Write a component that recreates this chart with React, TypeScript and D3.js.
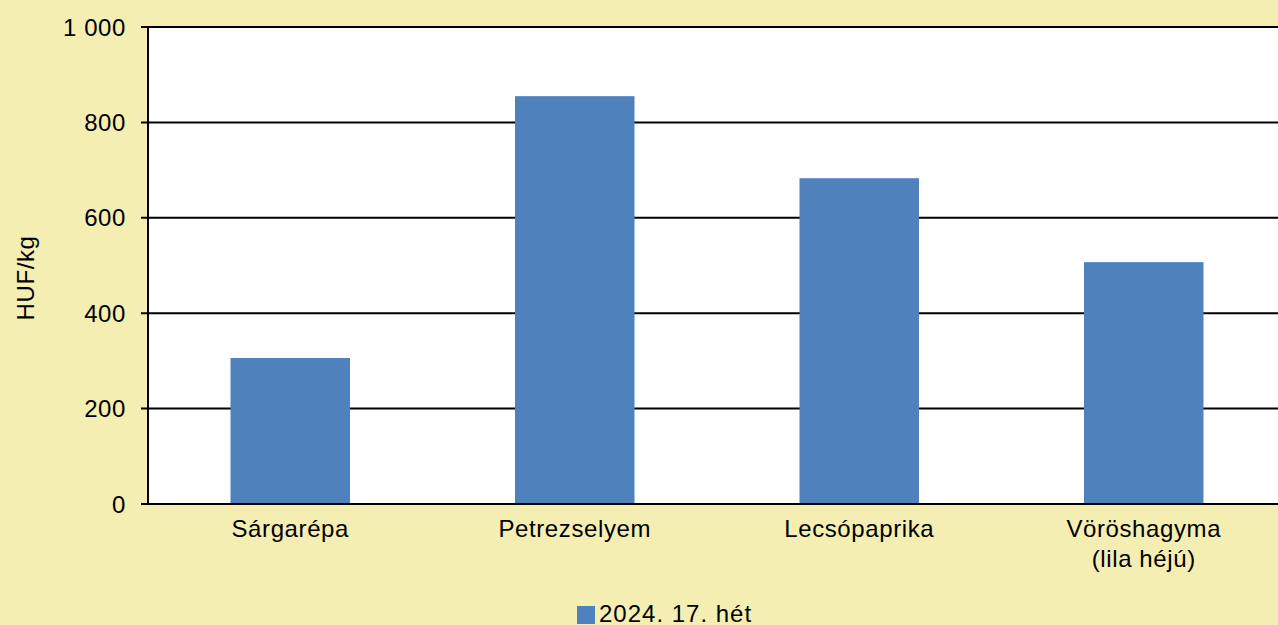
import { useEffect, useRef } from 'react';
import * as d3 from 'd3';

// chart data
const categories = ['Sárgarépa', 'Petrezselyem', 'Lecsópaprika', 'Vöröshagyma\n(lila héjú)'];
const values = [306, 855, 683, 507];
const seriesName = '2024. 17. hét';
const yTicks = [0, 200, 400, 600, 800, 1000];

export default function App() {
    const ref = useRef<SVGSVGElement>(null);

    useEffect(() => {
        // constants
        const width = 1278;
        const height = 625;
        const left = 148;
        const right = 1286;
        const top = 27;
        const bottom = 504;
        const bar_color = '#4F81BD';
        const font = '"Liberation Sans", Arial, sans-serif';
        const font_size = 24;
        const spacing = '0.6px';

        const svg = d3.select(ref.current);
        svg.selectAll('*').remove();

        svg.append('rect')
            .attr('width', width)
            .attr('height', height)
            .attr('fill', '#F5EEB3');

        // plot area
        svg.append('rect')
            .attr('x', left)
            .attr('y', top)
            .attr('width', right - left)
            .attr('height', bottom - top)
            .attr('fill', '#ffffff');

        // scales
        const x_scale = d3.scaleBand<string>()
            .domain(categories)
            .range([left, right])
            .paddingInner(0.58)
            .paddingOuter(0.29);

        const y_scale = d3.scaleLinear()
            .domain([0, 1000])
            .range([bottom, top]);

        // gridlines
        svg.append('g')
            .selectAll('line')
            .data(yTicks).enter()
            .append('line')
            .attr('x1', left - 7)
            .attr('x2', right)
            .attr('y1', d => y_scale(d))
            .attr('y2', d => y_scale(d))
            .attr('stroke', '#000')
            .attr('stroke-width', 2);

        // bars
        svg.append('g')
            .selectAll('rect')
            .data(values).enter()
            .append('rect')
            .attr('x', (d, i) => x_scale(categories[i]) as number)
            .attr('y', d => y_scale(d))
            .attr('width', x_scale.bandwidth())
            .attr('height', d => bottom - y_scale(d))
            .attr('fill', bar_color);

        // axis lines
        svg.append('line')
            .attr('x1', left).attr('x2', left)
            .attr('y1', top).attr('y2', bottom + 1)
            .attr('stroke', '#000')
            .attr('stroke-width', 2);
        svg.append('line')
            .attr('x1', left - 7).attr('x2', right)
            .attr('y1', bottom).attr('y2', bottom)
            .attr('stroke', '#000')
            .attr('stroke-width', 2);

        // y tick labels
        svg.append('g')
            .selectAll('text')
            .data(yTicks).enter()
            .append('text')
            .attr('x', left - 22)
            .attr('y', d => y_scale(d) + 8.5)
            .attr('text-anchor', 'end')
            .attr('font-family', font)
            .attr('font-size', font_size)
            .attr('letter-spacing', spacing)
            .text(d => d >= 1000 ? d3.format(',')(d).replace(',', ' ') : String(d));

        // y label
        svg.append('text')
            .attr('transform', 'translate(34, 278) rotate(-90)')
            .attr('text-anchor', 'middle')
            .attr('font-family', font)
            .attr('font-size', font_size)
            .attr('letter-spacing', spacing)
            .text('HUF/kg');

        // category labels
        const cat_labels = svg.append('g')
            .selectAll('text')
            .data(categories).enter()
            .append('text')
            .attr('text-anchor', 'middle')
            .attr('font-family', font)
            .attr('font-size', font_size)
            .attr('letter-spacing', spacing);
        cat_labels.each(function(d) {
            const cx = (x_scale(d) as number) + x_scale.bandwidth() / 2;
            d.split('\n').forEach((line, i) => {
                d3.select(this).append('tspan')
                    .attr('x', cx)
                    .attr('y', 537 + i * 30)
                    .text(line);
            });
        });

        // legend
        svg.append('rect')
            .attr('x', 577)
            .attr('y', 606)
            .attr('width', 18)
            .attr('height', 18)
            .attr('fill', bar_color);
        svg.append('text')
            .attr('x', 599)
            .attr('y', 622)
            .attr('font-family', font)
            .attr('font-size', font_size)
            .attr('letter-spacing', '1px')
            .text(seriesName);
    }, []);

    return (
        <svg ref={ref} width={1278} height={625}
            style={{ position: 'absolute', left: 0, top: 0, display: 'block' }} />
    );
}
